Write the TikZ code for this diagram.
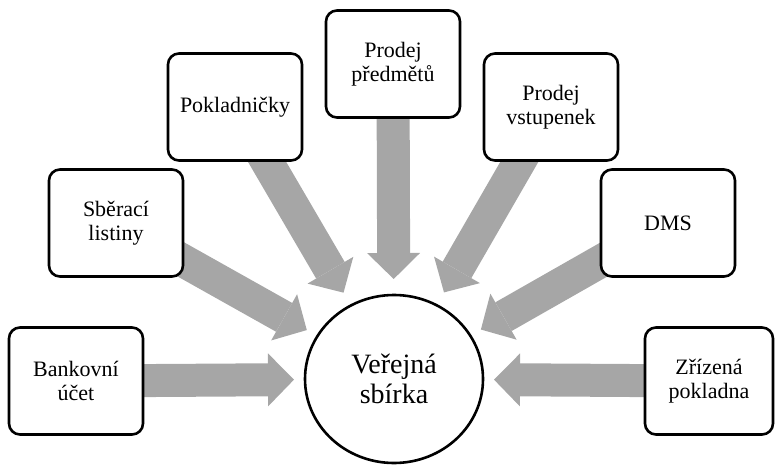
\documentclass[tikz,border=0pt]{standalone}
\usepackage{fontspec}
\setmainfont{Liberation Serif}
\usepackage{tikz}
\usetikzlibrary{arrows.meta,calc,backgrounds,shapes.geometric}
\definecolor{sipka}{RGB}{166,166,166}

\begin{document}
\begin{tikzpicture}[x=1pt, y=-1pt]
      \tikzstyle{zdroj} = [draw, line width=2.6pt, rounded corners=11pt, fill=white, minimum width=134pt, minimum height=107pt, align=center, font=\fontsize{22}{24}\selectfont]
      \tikzstyle{stred} = [draw, ellipse, line width=2.6pt, fill=white, minimum width=178pt, minimum height=168pt, inner sep=0pt, align=center, font=\fontsize{28}{30}\selectfont]
      \tikzstyle{sipka} = [color=sipka, line width=33pt, -{Triangle[length=26pt, width=53pt, line width=0pt, fill=sipka]}]
      \useasboundingbox (0,0) rectangle (775,465);
	\path
	node[stred] (vs) at (394,379) {Veřejná\\sbírka}
	node[zdroj] (bank) at (76,381) {Bankovní\\účet}
	node[zdroj] (sber) at (116,223) {Sběrací\\listiny}
	node[zdroj] (pokl) at (235,107) {Pokladničky}
	node[zdroj] (pred) at (393,64) {Prodej\\předmětů}
	node[zdroj] (vstup) at (551,107) {Prodej\\vstupenek}
	node[zdroj] (dms) at (668,223) {DMS}
	node[zdroj, minimum width=128pt] (zriz) at (709,381) {Zřízená\\pokladna}
	;
      \foreach \z in {bank,sber,pokl,pred,vstup,dms,zriz}
	\coordinate (t\z) at ($(vs.center)!100pt!(\z.center)$);
      \begin{scope}[on background layer]
	\path[sipka]
	(bank.center) edge (tbank)
	(sber.center) edge (tsber)
	(pokl.center) edge (tpokl)
	(pred.center) edge (tpred)
	(vstup.center) edge (tvstup)
	(dms.center) edge (tdms)
	(zriz.center) edge (tzriz)
	;
      \end{scope}
\end{tikzpicture}
\end{document}
